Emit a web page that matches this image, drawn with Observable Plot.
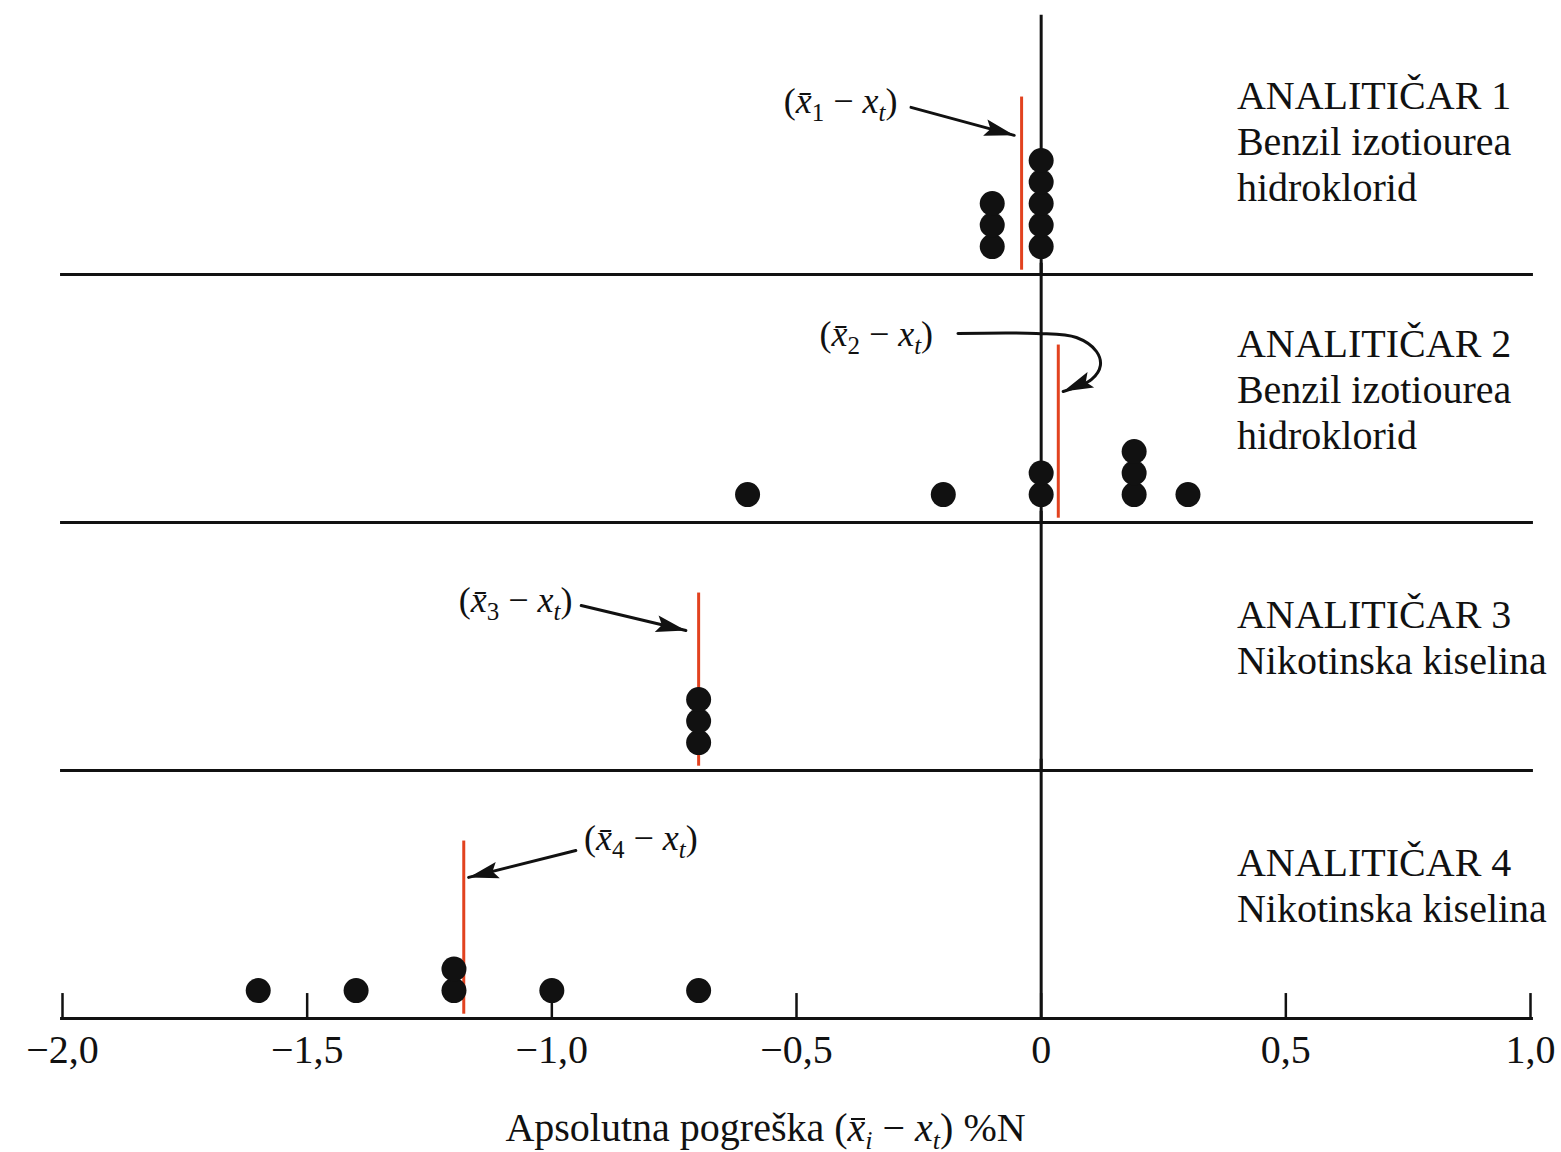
<!DOCTYPE html>
<html>
<head>
<meta charset="utf-8">
<script src="https://cdn.jsdelivr.net/npm/d3@7"></script>
<script src="https://cdn.jsdelivr.net/npm/@observablehq/plot@0.6"></script>
<style>
  html, body { margin: 0; padding: 0; background: #fff; }
  #chart svg { display: block; }
  #caption {
    width: 1561px; box-sizing: border-box; padding-right: 30px; margin-top: 14px;
    text-align: center; font-family: "Liberation Serif", serif; font-size: 40px; line-height: 48px; color: #111;
  }
  #caption .ov { position: relative; font-style: italic; }
  #caption .ov::after { content: ""; position: absolute; left: 3px; right: 0; top: 13px; border-top: 2px solid #111; }
  #caption .sb { font-size: 26px; position: relative; top: 8px; font-style: italic; }
</style>
</head>
<body>
<div id="chart"></div>
<div id="caption">Apsolutna pogreška (<span class="ov">x</span><span class="sb">i</span> − <i>x</i><span class="sb">t</span>) %N</div>
<script>
// ---- data ----
const panels = ["1", "2", "3", "4"];
const analystNames = ["ANALITIČAR 1", "ANALITIČAR 2", "ANALITIČAR 3", "ANALITIČAR 4"];
const substances = ["Benzil izotiourea\nhidroklorid", "Benzil izotiourea\nhidroklorid", "Nikotinska kiselina", "Nikotinska kiselina"];
const errors1 = [-0.1, -0.1, -0.1, 0, 0, 0, 0, 0];
const errors2 = [-0.6, -0.2, 0, 0, 0.19, 0.19, 0.19, 0.3];
const errors3 = [-0.7, -0.7, -0.7];
const errors4 = [-1.6, -1.4, -1.2, -1.2, -1.0, -0.7];
const meanErrors = [-0.04, 0.035, -0.7, -1.18];
const tickValues = [-2, -1.5, -1, -0.5, 0, 0.5, 1];
const tickLabels = ["−2,0", "−1,5", "−1,0", "−0,5", "0", "0,5", "1,0"];

// annotation geometry (x in %N, y in dot-stack units)
const annLabelX = [-0.41, -0.337, -1.074, -0.818];
const annLabelY = [7.75, 8.45, 7.6, 8.05];
const arrowPathX = [[-0.266, -0.055], [-0.170, -0.01, 0.072, 0.113, 0.121, 0.103, 0.045], [-0.94, -0.726], [-0.951, -1.17]];
const arrowPathY = [[7.47, 6.17], [8.49, 8.49, 8.3, 7.65, 7.0, 6.35, 5.79], [7.37, 6.21], [7.51, 6.26]];
const headRotate = [105, 247, 103, 256];

// ---- derived tables ----
const allErrors = [errors1, errors2, errors3, errors4];
const dots = [];
allErrors.forEach((arr, i) => {
  const seen = new Map();
  arr.forEach(v => {
    const k = seen.get(v) || 0;
    seen.set(v, k + 1);
    dots.push({p: panels[i], value: v, level: k + 1});
  });
});
const means = meanErrors.map((m, i) => ({p: panels[i], mean: m}));
const labels = panels.map((p, i) => ({p, text: analystNames[i] + "\n" + substances[i]}));
const annLabels = panels.map((p, i) => ({p, x: annLabelX[i], y: annLabelY[i], sub: String(i + 1), tag: "annotation"}));
const shafts = panels.flatMap((p, i) => arrowPathX[i].map((x, j) => ({p, x, y: arrowPathY[i][j]})));
const heads = panels.map((p, i) => ({p, x: arrowPathX[i].at(-1), y: arrowPathY[i].at(-1), rot: headRotate[i]}));
const ticks = tickValues.map(v => ({p: "4", v}));

// filled arrowhead, tip at the anchor, pointing up before rotation
const arrowHead = {
  draw(ctx, size) {
    const r = Math.sqrt(size / Math.PI);
    const L = 2.5 * r, w = 0.7 * r;
    ctx.moveTo(0, 0);
    ctx.lineTo(w, L);
    ctx.lineTo(0, L * 0.82);
    ctx.lineTo(-w, L);
    ctx.closePath();
  }
};

const red = "#e2421f";
const ink = "#111";

const chart = Plot.plot({
  width: 1561,
  height: 1090,
  marginLeft: 62,
  marginRight: 31,
  marginTop: 26,
  marginBottom: 72,
  style: {fontFamily: "Liberation Serif, serif", color: ink, background: "#fff"},
  x: {domain: [-2, 1]},
  y: {domain: [-0.3, 11.23], axis: null},
  fy: {domain: panels, padding: 0, axis: null},
  marks: [
    Plot.ruleY([-0.3], {x1: -2.004, x2: 1.006, stroke: ink, strokeWidth: 3}),
    Plot.ruleX([0], {y1: -0.3, y2: 11.75, stroke: ink, strokeWidth: 3}),
    Plot.ruleX(ticks, {x: "v", fy: "p", y1: -0.3, y2: 0.86, stroke: ink, strokeWidth: 2.5}),
    Plot.ruleX(means, {x: "mean", fy: "p", y1: -0.1, y2: 7.95, stroke: red, strokeWidth: 3}),
    Plot.dot(dots, {x: "value", y: "level", fy: "p", r: 12.5, fill: ink}),
    Plot.text(labels, {x: 0.4, fy: "p", frameAnchor: "middle", text: "text", textAnchor: "start", lineAnchor: "middle", lineHeight: 1.15, dy: -10, fontSize: 40, fill: ink}),
    Plot.line(shafts, {x: "x", y: "y", fy: "p", z: "p", curve: "catmull-rom", stroke: ink, strokeWidth: 3}),
    Plot.dot(heads, {x: "x", y: "y", fy: "p", rotate: "rot", symbol: arrowHead, r: 12, fill: ink, stroke: "none"}),
    Plot.text(annLabels, {x: "x", y: "y", fy: "p", text: "sub", fontSize: 36, fill: ink, ariaLabel: "tag"}),
    Plot.axisX({ticks: tickValues, tickSize: 0, tickPadding: 16, fontSize: 40, label: null,
      tickFormat: v => tickLabels[tickValues.indexOf(v)]})
  ]
});
document.getElementById("chart").append(chart);

// rich formatting of the (x̄_k − x_t) annotations
let targets = Array.from(chart.querySelectorAll('text[aria-label="annotation"]'));
if (!targets.length) targets = Array.from(chart.querySelectorAll('g[font-size="36"] text'));
targets.forEach(node => {
  const sub = node.textContent;
  const t = d3.select(node);
  t.text(null);
  t.append("tspan").text("(");
  t.append("tspan").attr("font-style", "italic").text("x\u0304");
  t.append("tspan").attr("font-size", 25).attr("dy", 8).text(sub);
  t.append("tspan").attr("dy", -8).text(" − ");
  t.append("tspan").attr("font-style", "italic").text("x");
  t.append("tspan").attr("font-style", "italic").attr("font-size", 25).attr("dy", 8).text("t");
  t.append("tspan").attr("dy", -8).text(")");
});
</script>
</body>
</html>
